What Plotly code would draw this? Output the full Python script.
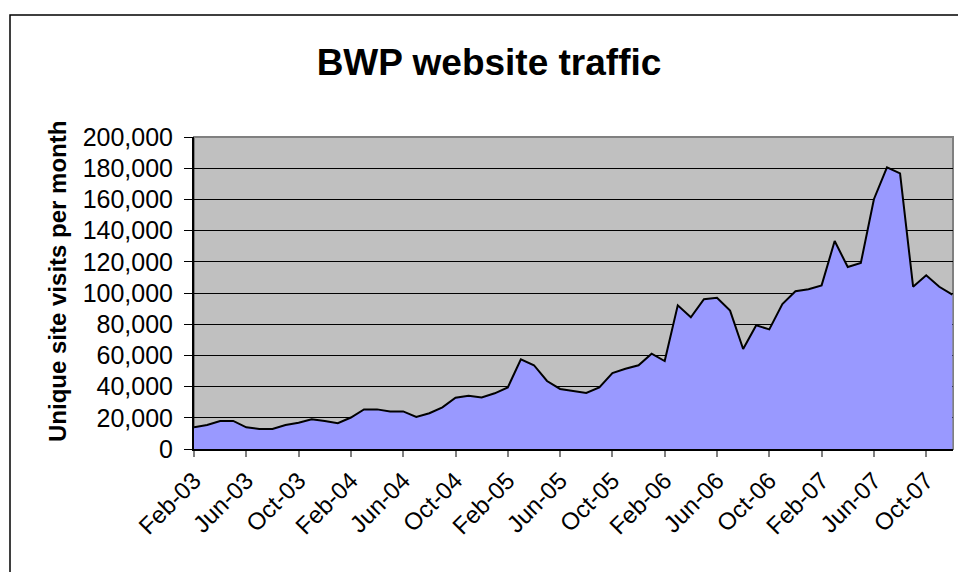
import plotly.graph_objects as go

months = ["Feb-03","Mar-03","Apr-03","May-03","Jun-03","Jul-03","Aug-03","Sep-03","Oct-03","Nov-03","Dec-03",
          "Jan-04","Feb-04","Mar-04","Apr-04","May-04","Jun-04","Jul-04","Aug-04","Sep-04","Oct-04","Nov-04","Dec-04",
          "Jan-05","Feb-05","Mar-05","Apr-05","May-05","Jun-05","Jul-05","Aug-05","Sep-05","Oct-05","Nov-05","Dec-05",
          "Jan-06","Feb-06","Mar-06","Apr-06","May-06","Jun-06","Jul-06","Aug-06","Sep-06","Oct-06","Nov-06","Dec-06",
          "Jan-07","Feb-07","Mar-07","Apr-07","May-07","Jun-07","Jul-07","Aug-07","Sep-07","Oct-07","Nov-07","Dec-07"]

visits = [14000, 15400, 18000, 18000, 13900, 12800, 12800, 15400, 16800, 19100, 17900,
          16500, 20200, 25400, 25400, 24100, 24100, 20500, 22900, 26700, 32900, 34200, 33000,
          35700, 39500, 57500, 53700, 43600, 38500, 37200, 35900, 39500, 48700, 51400, 53700,
          61100, 56400, 92100, 84400, 96000, 97000, 88700, 64100, 79300, 76700, 92900, 101100,
          102400, 104900, 133300, 116700, 119200, 160100, 180600, 176700, 104000, 111300, 104000, 98900]

tick_labels = months[::4]
y_ticks = list(range(0, 200001, 20000))

FONT = "Arial, Liberation Sans, sans-serif"

fig = go.Figure()
fig.add_trace(go.Scatter(
    x=months, y=visits, mode="lines",
    line=dict(color="black", width=2),
    fill="tozeroy", fillcolor="#9999FF",
    hoverinfo="x+y", showlegend=False,
))

L, R, T, B = 194, 5, 137, 123
W, H = 958, 572
pw, ph = W - L - R, H - T - B

def px2x(px):
    return (px - L) / pw

def py2y(py):
    return (H - B - py) / ph

fig.update_layout(
    width=W, height=H,
    margin=dict(l=L, r=R, t=T, b=B, pad=0),
    paper_bgcolor="white",
    plot_bgcolor="#C0C0C0",
    font=dict(family=FONT, color="black", size=25),
    title=dict(text="<b>BWP website traffic</b>", x=489 / W, xanchor="center",
               y=1 - 62 / H, yanchor="middle", font=dict(size=37, family=FONT, color="black")),
    xaxis=dict(
        type="category", range=[0, len(months) - 1 + 0.05],
        tickvals=tick_labels, ticktext=tick_labels, tickangle=-45,
        ticks="outside", ticklen=6, tickcolor="#808080", tickwidth=2,
        showline=True, linecolor="black", linewidth=2,
        showgrid=False, zeroline=False,
        tickfont=dict(size=24, family=FONT, color="black"),
    ),
    yaxis=dict(
        range=[0, 200000], tickvals=y_ticks, tickformat=",",
        ticks="outside", ticklen=8, tickcolor="black", tickwidth=1,
        showline=True, linecolor="black", linewidth=2,
        showgrid=True, gridcolor="black", gridwidth=1,
        zeroline=False, ticklabelstandoff=6,
        tickfont=dict(size=25, family=FONT, color="black"),
    ),
    annotations=[dict(
        text="<b>Unique site visits per month</b>", textangle=-90,
        xref="paper", yref="paper", x=px2x(57), y=py2y(282),
        xanchor="center", yanchor="middle", showarrow=False,
        font=dict(size=24, family=FONT, color="black"),
    )],
    shapes=[
        dict(type="rect", xref="paper", yref="paper", x0=0, x1=1, y0=0, y1=1,
             line=dict(color="#808080", width=2), layer="below", fillcolor="rgba(0,0,0,0)"),
        dict(type="rect", xref="paper", yref="paper",
             x0=px2x(10), x1=px2x(990), y0=py2y(600), y1=py2y(15),
             line=dict(color="black", width=1.5)),
    ],
)

fig.write_html(
    "out.html",
    config={"displayModeBar": False},
    post_script="document.body.style.margin='0';document.body.style.overflow='hidden';",
)
